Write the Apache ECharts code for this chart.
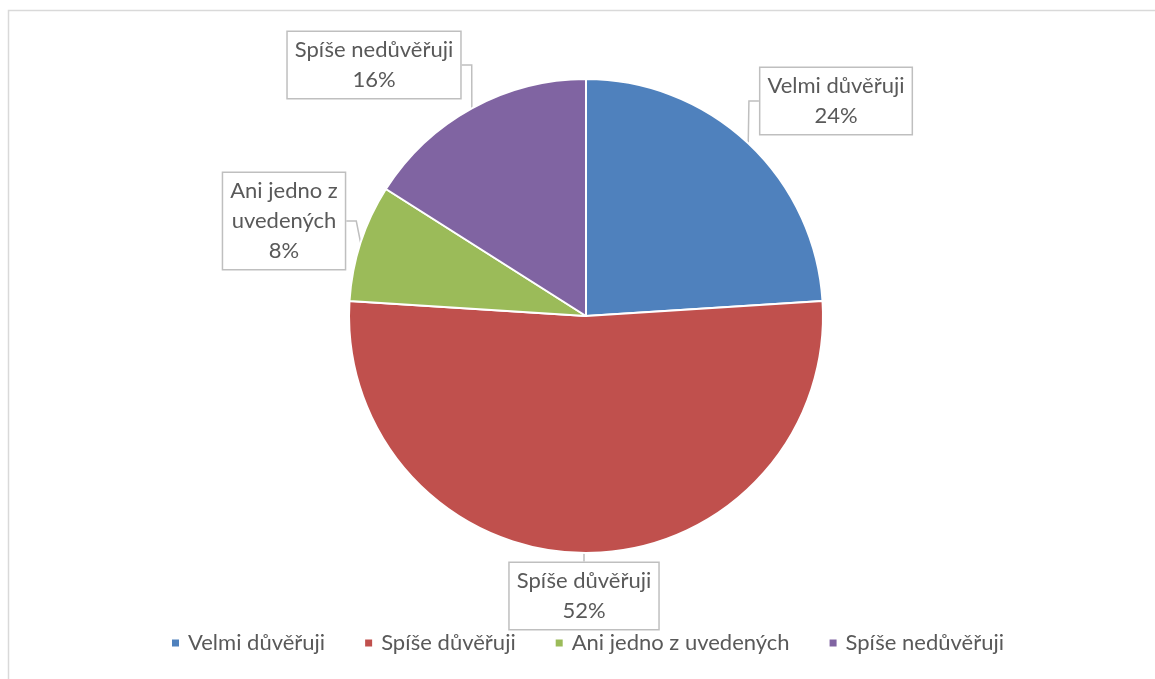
<!DOCTYPE html>
<html><head><meta charset="utf-8">
<script src="https://cdn.jsdelivr.net/npm/echarts@6/dist/echarts.min.js"></script>
<style>html,body{margin:0;padding:0;background:#fff}#c{width:1155px;height:679px}</style>
</head><body><div id="c"></div>
<script>
const categories = ['Velmi důvěřuji', 'Spíše důvěřuji', 'Ani jedno z uvedených', 'Spíše nedůvěřuji'];
const values = [24, 52, 8, 16];
const labelTexts = ['Velmi důvěřuji', 'Spíše důvěřuji', 'Ani jedno z\nuvedených', 'Spíše nedůvěřuji'];
const colors = ['#4F81BD', '#C0504D', '#9BBB59', '#8064A2'];
const labelPos = [[836, 101], [584, 596], [284, 221], [374, 65]];

const chart = echarts.init(document.getElementById('c'), null, {renderer: 'canvas'});
chart.setOption({
  animation: false,
  color: colors,
  textStyle: {fontFamily: 'Lato'},
  graphic: [{type: 'rect', shape: {x: 8.5, y: 10.5, width: 1200, height: 700}, style: {fill: 'none', stroke: '#d9d9d9', lineWidth: 1.5}, silent: true}],
  legend: {
    bottom: 20, left: 165, itemWidth: 9, itemHeight: 9, itemGap: 38, icon: 'rect',
    textStyle: {color: '#595959', fontSize: 22, fontFamily: 'Lato', padding: [0, 0, 0, 3]},
    data: categories
  },
  series: [{
    type: 'pie', center: [586, 316], radius: 237, startAngle: 90, clockwise: true,
    itemStyle: {borderColor: '#fff', borderWidth: 2},
    label: {
      show: true, color: '#595959', fontSize: 22, fontFamily: 'Lato', lineHeight: 30,
      align: 'center', backgroundColor: '#fff', borderColor: '#bfbfbf', borderWidth: 1.5,
      padding: [3, 7, 3, 7],
      formatter: p => labelTexts[p.dataIndex] + '\n' + p.value + '%'
    },
    labelLine: {show: true, length: 10, length2: 10, lineStyle: {color: '#bfbfbf', width: 1.5}},
    labelLayout: p => ({x: labelPos[p.dataIndex][0], y: labelPos[p.dataIndex][1], align: 'center', verticalAlign: 'middle'}),
    emphasis: {disabled: true},
    data: categories.map((c, i) => ({name: c, value: values[i]}))
  }]
});
</script></body></html>
